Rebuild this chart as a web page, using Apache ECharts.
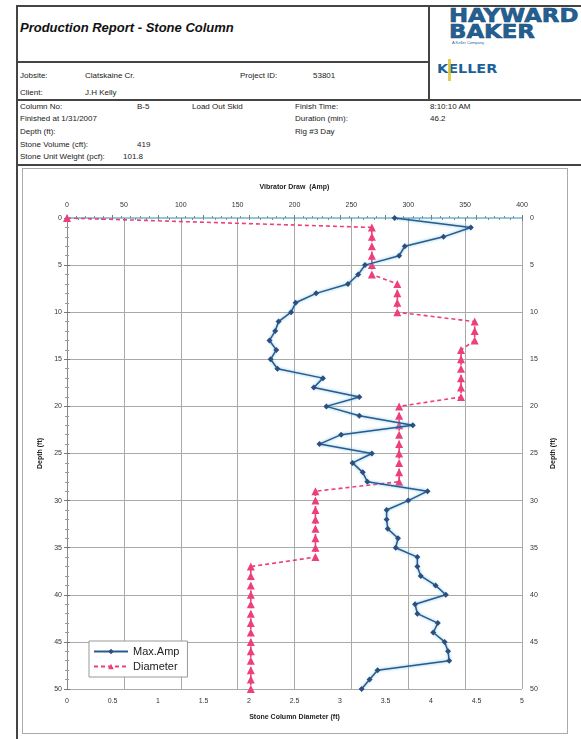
<!DOCTYPE html>
<html><head><meta charset="utf-8">
<script src="https://cdn.jsdelivr.net/npm/echarts@6/dist/echarts.min.js"></script>
<style>
html,body{margin:0;padding:0;background:#fff;width:581px;height:739px;overflow:hidden;font-family:"Liberation Sans",Arial,sans-serif;}
.t{position:absolute;font-size:8px;color:#222;white-space:nowrap;line-height:9px;}
.ln{position:absolute;background:#444;}
</style></head><body>
<div class="ln" style="left:16px;top:5px;width:570px;height:2px"></div>
<div class="ln" style="left:16px;top:5px;width:2px;height:734px"></div>
<div class="ln" style="left:428px;top:5px;width:2px;height:96px"></div>
<div class="ln" style="left:16px;top:61px;width:413px;height:2px"></div>
<div class="ln" style="left:16px;top:99px;width:570px;height:2px"></div>
<div class="ln" style="left:16px;top:164px;width:570px;height:2px"></div>
<div class="t" style="left:20px;top:20px;font-size:13px;line-height:15px;font-weight:bold;font-style:italic;color:#111">Production Report - Stone Column</div>
<div class="t" style="left:449px;top:6px;font-size:19px;line-height:18px;font-weight:900;color:#245f92;font-family:'DejaVu Sans';transform:scaleX(1.2);transform-origin:left;-webkit-text-stroke:0.6px #1d4f7d">HAYWARD</div>
<div class="t" style="left:449px;top:22px;font-size:19px;line-height:18px;font-weight:900;color:#245f92;font-family:'DejaVu Sans';transform:scaleX(1.2);transform-origin:left;-webkit-text-stroke:0.6px #1d4f7d">BAKER</div>
<div class="t" style="left:452px;top:40px;font-size:4px;line-height:5px;color:#2467a0">A Keller Company</div>
<div class="t" style="left:437px;top:63px;font-size:12px;line-height:13px;font-weight:900;color:#1e5f9a;font-family:'DejaVu Sans';transform:scaleX(1.2);transform-origin:left">KELLER</div>
<div style="position:absolute;left:448px;top:59px;width:3px;height:22px;background:#e0c020;opacity:0.8"></div>
<div class="t" style="left:20px;top:71px">Jobsite:</div>
<div class="t" style="left:85px;top:71px">Clatskaine Cr.</div>
<div class="t" style="left:240px;top:71px">Project ID:</div>
<div class="t" style="left:313px;top:71px">53801</div>
<div class="t" style="left:20px;top:88px">Client:</div>
<div class="t" style="left:85px;top:88px">J.H Kelly</div>
<div class="t" style="left:20px;top:102px">Column No:</div>
<div class="t" style="left:137px;top:102px">B-5</div>
<div class="t" style="left:192px;top:102px">Load Out Skid</div>
<div class="t" style="left:295px;top:102px">Finish Time:</div>
<div class="t" style="left:430px;top:102px">8:10:10 AM</div>
<div class="t" style="left:20px;top:114px">Finished at 1/31/2007</div>
<div class="t" style="left:295px;top:114px">Duration (min):</div>
<div class="t" style="left:430px;top:114px">46.2</div>
<div class="t" style="left:20px;top:127px">Depth (ft):</div>
<div class="t" style="left:295px;top:127px">Rig #3 Day</div>
<div class="t" style="left:20px;top:140px">Stone Volume (cft):</div>
<div class="t" style="left:137px;top:140px">419</div>
<div class="t" style="left:20px;top:152px">Stone Unit Weight (pcf):</div>
<div class="t" style="left:123px;top:152px">101.8</div>
<div id="c" style="position:absolute;left:22px;top:168px;width:544px;height:564px;border:1px solid #aaa;"></div>
<script>
var depths = [0,1,2,3,4,5,6,7,8,9,10,11,12,13,14,15,16,17,18,19,20,21,22,23,24,25,26,27,28,29,30,31,32,33,34,35,36,37,38,39,40,41,42,43,44,45,46,47,48,49,50];
var maxAmp = [288,355,331,297,292,262,256,247,219,201,197,186,183,178,184,179,185,225,217,257,228,257,304,241,222,268,251,260,264,317,300,281,281,282,291,289,308,308,311,324,333,306,308,326,322,332,335,336,273,266,259];
var diameter = [0,3.35,3.35,3.35,3.35,3.35,3.35,3.63,3.63,3.63,3.63,4.48,4.48,4.48,4.33,4.33,4.33,4.33,4.33,4.33,3.65,3.65,3.65,3.65,3.65,3.65,3.65,3.65,3.65,2.73,2.73,2.73,2.73,2.73,2.73,2.73,2.73,2.02,2.02,2.02,2.02,2.02,2.02,2.02,2.02,2.02,2.02,2.02,2.02,2.02,2.02];
var ampTicks = [0,50,100,150,200,250,300,350,400];
var diaTicks = [0,0.5,1,1.5,2,2.5,3,3.5,4,4.5,5];
var depthTicks = [0,5,10,15,20,25,30,35,40,45,50];

var chart = echarts.init(document.getElementById('c'));
var lab = {fontSize:7, color:'#333', fontFamily:'Liberation Sans'};
var nameSt = {fontSize:7, color:'#222', fontWeight:'bold', fontFamily:'Liberation Sans'};
chart.setOption({
  animation:false,
  grid:{left:44, top:49, width:455, height:471},
  xAxis:[
    {type:'value', position:'top', min:0, max:ampTicks[ampTicks.length-1], interval:50,
     name:'Vibrator Draw  (Amp)', nameLocation:'middle', nameGap:27, nameTextStyle:nameSt,
     axisLabel:Object.assign({margin:9}, lab),
     axisLine:{show:true, lineStyle:{color:'#8fc6da', width:1.5}},
     axisTick:{show:true, inside:true, length:3, lineStyle:{color:'#777'}},
     minorTick:{show:true, splitNumber:5, length:2, lineStyle:{color:'#888'}},
     splitLine:{show:true, lineStyle:{color:'#aaa', width:1}}},
    {type:'value', position:'bottom', min:0, max:diaTicks[diaTicks.length-1], interval:0.5,
     name:'Stone Column Diameter (ft)', nameLocation:'middle', nameGap:25, nameTextStyle:nameSt,
     axisLabel:Object.assign({margin:9}, lab),
     axisLine:{show:true, lineStyle:{color:'#8fc6da', width:1.5}},
     axisTick:{show:true, inside:true, length:3, lineStyle:{color:'#777'}},
     minorTick:{show:true, splitNumber:5, length:2, lineStyle:{color:'#888'}},
     splitLine:{show:false}}
  ],
  yAxis:[
    {type:'value', position:'left', inverse:true, min:0, max:depthTicks[depthTicks.length-1], interval:5,
     name:'Depth (ft)', nameLocation:'middle', nameGap:15, nameRotate:90, nameTextStyle:nameSt,
     axisLabel:Object.assign({margin:5}, lab),
     axisLine:{show:true, lineStyle:{color:'#888', width:1}},
     axisTick:{show:true, inside:true, length:3, lineStyle:{color:'#777'}},
     minorTick:{show:true, splitNumber:5, length:2, lineStyle:{color:'#999'}},
     splitLine:{show:true, lineStyle:{color:'#aaa', width:1}}},
    {type:'value', position:'right', inverse:true, min:0, max:depthTicks[depthTicks.length-1], interval:5,
     name:'Depth (ft)', nameLocation:'middle', nameGap:28, nameRotate:90, nameTextStyle:nameSt,
     axisLabel:Object.assign({margin:8}, lab),
     axisLine:{show:true, lineStyle:{color:'#888', width:1}},
     axisTick:{show:true, inside:true, length:3, lineStyle:{color:'#777'}},
     minorTick:{show:true, splitNumber:5, length:2, lineStyle:{color:'#999'}},
     splitLine:{show:false}}
  ],
  legend:{orient:'vertical', left:66, top:472, itemWidth:34, itemHeight:7, itemGap:4,
    padding:[5,8,5,4], borderColor:'#999', borderWidth:1, backgroundColor:'#fff',
    textStyle:{fontSize:11, color:'#222', fontFamily:'Liberation Sans'},
    data:['Max.Amp','Diameter']},
  series:[
    {name:'Max.Amp', type:'line', xAxisIndex:0, yAxisIndex:0,
     data:depths.map(function(d,i){return [maxAmp[i], d];}),
     symbol:'diamond', symbolSize:6, color:'#2c4f80',
     lineStyle:{width:1.5, color:'#2c5a8c', shadowColor:'rgba(90,185,230,0.9)', shadowBlur:3},
     itemStyle:{color:'#2c4f80'}, z:3},
    {name:'Diameter', type:'line', xAxisIndex:1, yAxisIndex:0,
     data:depths.map(function(d,i){return [diameter[i], d];}),
     symbol:'triangle', symbolSize:8, color:'#ec3f7c',
     lineStyle:{width:1.6, type:[4,3], color:'#ec3f7c'},
     itemStyle:{color:'#ec3f7c'}, z:2}
  ]
});
</script>
</body></html>
